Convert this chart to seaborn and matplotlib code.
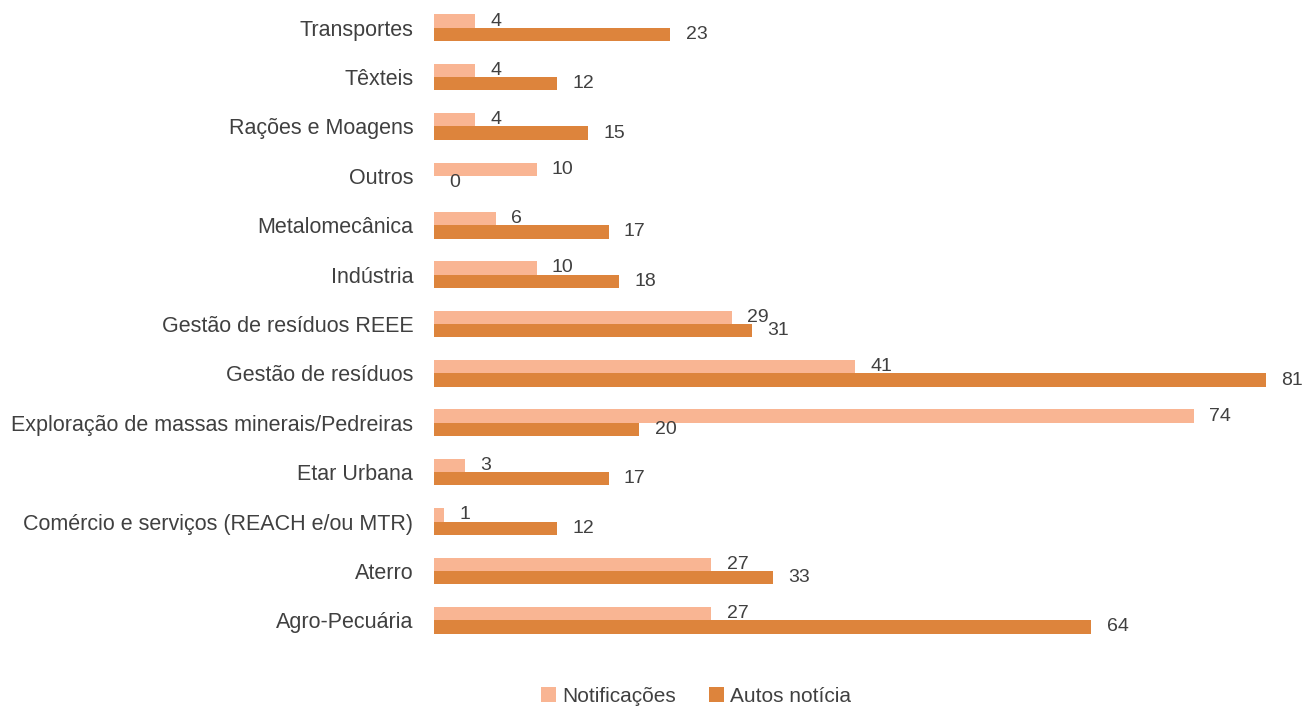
import pandas as pd
import seaborn as sns
import matplotlib.pyplot as plt

# --- data (top to bottom) ---
categories = [
    'Transportes', 'Têxteis', 'Rações e Moagens', 'Outros', 'Metalomecânica',
    'Indústria', 'Gestão de resíduos REEE', 'Gestão de resíduos',
    'Exploração de massas minerais/Pedreiras', 'Etar Urbana',
    'Comércio e serviços (REACH e/ou MTR)', 'Aterro', 'Agro-Pecuária',
]
notificacoes = [4, 4, 4, 10, 6, 10, 29, 41, 74, 3, 1, 27, 27]
autos_noticia = [23, 12, 15, 0, 17, 18, 31, 81, 20, 17, 12, 33, 64]
series = ['Notificações', 'Autos notícia']
colors = ['#F9B593', '#DD843C']

df = pd.DataFrame({
    'categoria': categories * 2,
    'valor': notificacoes + autos_noticia,
    'serie': [series[0]] * len(categories) + [series[1]] * len(categories),
})

sns.set_style('white')
plt.rcParams['font.family'] = ['Liberation Sans', 'DejaVu Sans']
text_color = '#404040'

fig = plt.figure(figsize=(13.07, 7.07), dpi=100)
ax = fig.add_axes([434 / 1307, 1 - 645 / 707, 1 - 434 / 1307, (645 - 3) / 707])

sns.barplot(data=df, y='categoria', x='valor', hue='serie', hue_order=series,
            order=categories, palette=colors, width=0.54, orient='h',
            saturation=1, linewidth=0, ax=ax)

ax.set_xlim(0, 85)
ax.set_xlabel('')
ax.set_ylabel('')
ax.set_xticks([])
ax.tick_params(axis='y', length=0, pad=15, labelsize=15.5, labelcolor=text_color)
for s in ax.spines.values():
    s.set_visible(False)

# value labels just right of each bar, nudged slightly down like the original
for cont in ax.containers:
    ax.bar_label(cont, padding=11, fontsize=14, color=text_color)

handles, labels = ax.get_legend_handles_labels()
ax.legend_.remove()
fig.legend(handles, labels, loc='center', bbox_to_anchor=(696 / 1307, 1 - 696 / 707),
           ncol=2, frameon=False, fontsize=15, handlelength=0.7, handleheight=0.7,
           handletextpad=0.3, columnspacing=1.6, labelcolor=text_color)

fig.savefig('out.png', dpi=100)
